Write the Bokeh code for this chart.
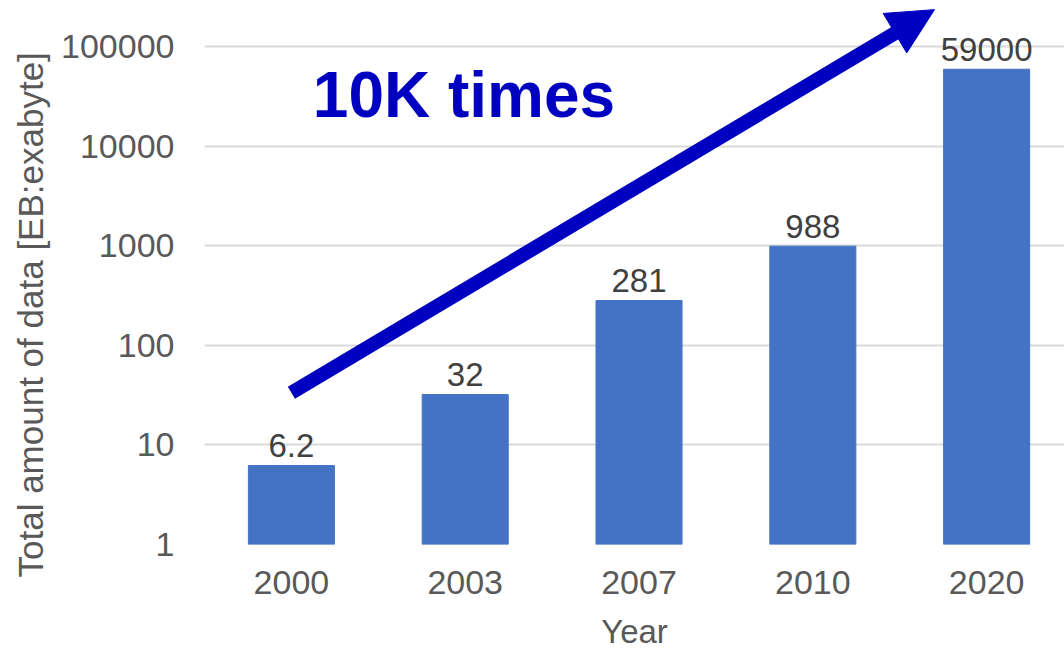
import math
from bokeh.plotting import figure
from bokeh.models import (ColumnDataSource, Range1d, FixedTicker, Arrow,
                          NormalHead, Label, Title)
from bokeh.core.properties import value
from bokeh.embed import file_html
from bokeh.resources import INLINE

years = ["2000", "2003", "2007", "2010", "2020"]
amounts = [6.2, 32, 281, 988, 59000]
amount_labels = ["6.2", "32", "281", "988", "59000"]
y_ticks = [1, 10, 100, 1000, 10000, 100000]

FONT = "Liberation Sans"
GRAY = "#595959"

xs = list(range(len(years)))
src = ColumnDataSource(dict(x=xs, top=amounts, bottom=[1] * len(xs), lbl=amount_labels))

p = figure(width=1064, height=652, output_backend="svg", toolbar_location=None,
           y_axis_type="log", x_range=Range1d(-0.5, 4.448),
           y_range=Range1d(1, 10 ** (5 + 46 / 99.8)),
           min_border_left=203, min_border_right=0, min_border_top=0,
           min_border_bottom=107)
p.outline_line_color = None
p.background_fill_color = "white"
p.border_fill_color = "white"

p.vbar(x="x", top="top", bottom="bottom", width=0.495, source=src,
       fill_color="#4472C4", line_color="#4472C4")

p.text(x="x", y="top", text="lbl", source=src, text_align="center",
       text_baseline="alphabetic", y_offset=-20, text_font_size="33px",
       text_color="#404040", text_font=value(FONT))

# axes
p.xaxis.ticker = FixedTicker(ticks=xs)
p.xaxis.major_label_overrides = {i: y for i, y in enumerate(years)}
p.yaxis.ticker = FixedTicker(ticks=y_ticks)
p.yaxis.major_label_overrides = {t: str(t) for t in y_ticks}
for ax in (p.xaxis[0], p.yaxis[0]):
    ax.axis_line_color = None
    ax.major_tick_line_color = None
    ax.minor_tick_line_color = None
    ax.major_tick_out = 0
    ax.minor_tick_out = 0
    ax.major_label_text_font = FONT
    ax.major_label_text_font_size = "34px"
    ax.major_label_text_color = GRAY
    ax.axis_label_text_font = FONT
    ax.axis_label_text_font_style = "normal"
    ax.axis_label_text_color = GRAY
    ax.axis_label_text_font_size = "33px"
p.xaxis.axis_label = "Year"
p.xaxis.major_label_standoff = 26
p.xaxis.axis_label_standoff = 16
p.yaxis.major_label_standoff = 30

p.xgrid.grid_line_color = None
p.ygrid.ticker = FixedTicker(ticks=y_ticks)
p.ygrid.grid_line_color = "#D9D9D9"
p.ygrid.grid_line_width = 2

# rotated y-axis title (starts below the frame bottom like the reference)
p.add_layout(Title(text="Total amount of data [EB:exabyte]", align="left",
                   offset=-33, standoff=17, text_font=FONT,
                   text_font_size="35px", text_font_style="normal",
                   text_color=GRAY), "left")

# annotation arrow and text
p.add_layout(Arrow(x_start=0.0, y_start=33.3, x_end=3.70, y_end=234000,
                   line_color="#0000C0", line_width=14,
                   end=NormalHead(size=46, fill_color="#0000C0", line_color="#0000C0")))
p.add_layout(Label(x=0.123, y=10 ** ((545 - 95) / 99.8), text="10K times",
                   text_font=FONT, text_font_style="bold", text_font_size="64px",
                   text_color="#0000C0", text_baseline="alphabetic"))

open("out.html", "w").write(file_html(p, INLINE))
